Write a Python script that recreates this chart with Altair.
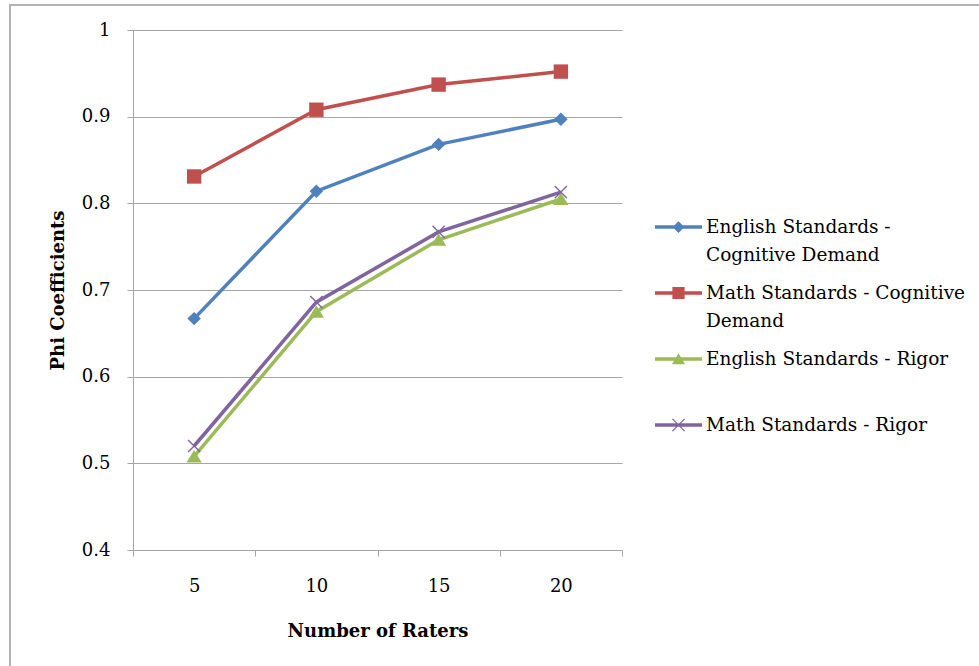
import altair as alt
import pandas as pd

# ---- data ----
raters = [5, 10, 15, 20]
series_names = [
    "English Standards - Cognitive Demand",
    "Math Standards - Cognitive Demand",
    "English Standards - Rigor",
    "Math Standards - Rigor",
]
english_cd = [0.667, 0.814, 0.868, 0.897]
math_cd = [0.831, 0.908, 0.937, 0.952]
english_rigor = [0.508, 0.675, 0.758, 0.805]
math_rigor = [0.520, 0.686, 0.767, 0.813]
series_values = [english_cd, math_cd, english_rigor, math_rigor]
colors = ["#4f81bd", "#c0504d", "#9bbb59", "#8064a2"]
y_ticks = [0.4, 0.5, 0.6, 0.7, 0.8, 0.9, 1.0]
legend_lines = [
    ["English Standards -", "Cognitive Demand"],
    ["Math Standards - Cognitive", "Demand"],
    ["English Standards - Rigor"],
    ["Math Standards - Rigor"],
]

rows = []
for s, vals in zip(series_names, series_values):
    for r, v in zip(raters, vals):
        rows.append({"raters": r, "series": s, "phi": v})
df = pd.DataFrame(rows)

# marker glyphs (unit square -1..1)
marker_paths = [
    "M0,-0.84L0.84,0L0,0.84L-0.84,0Z",
    "M-0.9,-0.9H0.9V0.9H-0.9Z",
    "M0,-0.8L0.95,0.75H-0.95Z",
    "M-0.82,-0.7L-0.7,-0.82L0.82,0.7L0.7,0.82Z M0.7,-0.82L0.82,-0.7L-0.7,0.82L-0.82,0.7Z",
]
line_part = "M-1,-0.075H1V0.075H-1Z "
legend_paths = [
    line_part + "M0,-0.25L0.25,0L0,0.25L-0.25,0Z",
    line_part + "M-0.26,-0.26H0.26V0.26H-0.26Z",
    line_part + "M0,-0.25L0.28,0.22H-0.28Z",
    line_part + "M-0.28,-0.24L-0.24,-0.28L0.28,0.24L0.24,0.28Z M0.24,-0.28L0.28,-0.24L-0.24,0.28L-0.28,0.24Z",
]

FONT = "DejaVu Serif"
GRAY = "#a6a6a6"

# every legend label is given two lines so all entries get the same height
label_expr = ""
for name, lines in zip(series_names, legend_lines):
    padded = lines + [""] * (2 - len(lines))
    arr = "[" + ", ".join("'" + l + "'" for l in padded) + "]"
    label_expr += f"datum.label == '{name}' ? {arr} : "
label_expr += "datum.label"

x_enc = alt.X(
    "raters:O",
    scale=alt.Scale(type="band", paddingInner=0, paddingOuter=0),
    axis=alt.Axis(
        title="Number of Raters", labelAngle=0, tickBand="extent", grid=False,
        labelPadding=21, titlePadding=27,
    ),
)
y_enc = alt.Y(
    "phi:Q",
    scale=alt.Scale(domain=[0.4, 1.0], nice=False, zero=False),
    axis=alt.Axis(
        values=y_ticks, format=".1~f", title="Phi Coefficients",
        labelPadding=17, titlePadding=14, grid=True,
    ),
)

frame = alt.Chart(pd.DataFrame({"f": [0]})).mark_rect(
    fillOpacity=0, stroke="#b3b3b3", strokeWidth=2
).encode(
    x=alt.value(-123), x2=alt.value(900), y=alt.value(-25), y2=alt.value(700)
)

base = alt.Chart(df)
lines = base.mark_line(strokeWidth=3.5).encode(
    x=x_enc, y=y_enc,
    color=alt.Color("series:N", scale=alt.Scale(domain=series_names, range=colors), legend=None),
)
points = base.mark_point(filled=True, opacity=1, strokeWidth=0).encode(
    x=x_enc, y=y_enc,
    color=alt.Color("series:N", scale=alt.Scale(domain=series_names, range=colors), legend=None),
    shape=alt.Shape("series:N", scale=alt.Scale(domain=series_names, range=marker_paths), legend=None),
    size=alt.value(256),
)

leg = alt.Legend(
    title=None, orient="none", legendX=522, legendY=168, padding=0,
    clipHeight=58, rowPadding=0, symbolSize=2209, symbolStrokeWidth=0,
    symbolOpacity=1, labelFont=FONT, labelFontSize=18.5, labelColor="#000000",
    labelOffset=4, labelLimit=400, labelExpr=label_expr,
)
legend_layer = base.mark_point(filled=True).encode(
    color=alt.Color("series:N", scale=alt.Scale(domain=series_names, range=colors), legend=leg),
    shape=alt.Shape("series:N", scale=alt.Scale(domain=series_names, range=legend_paths), legend=leg),
).transform_filter("false")

chart = alt.layer(frame, lines, points, legend_layer).resolve_scale(
    color="independent", shape="independent"
).properties(
    width=489, height=520,
    autosize=alt.AutoSizeParams(type="none"),
    padding={"left": 133, "top": 30, "right": 357, "bottom": 116},
    background="white",
).configure_view(stroke=None).configure_axis(
    domainColor=GRAY, tickColor=GRAY, gridColor=GRAY, domainWidth=1, tickWidth=1,
    gridWidth=1, tickSize=6, labelFont=FONT, labelFontSize=18, labelColor="#000000",
    titleFont=FONT, titleFontSize=18, titleFontWeight="bold", titleColor="#000000",
)
chart.config.style = {"guide-label": {"lineHeight": 27.5}}

chart.save("out.html", embed_options={"renderer": "svg", "actions": False})
